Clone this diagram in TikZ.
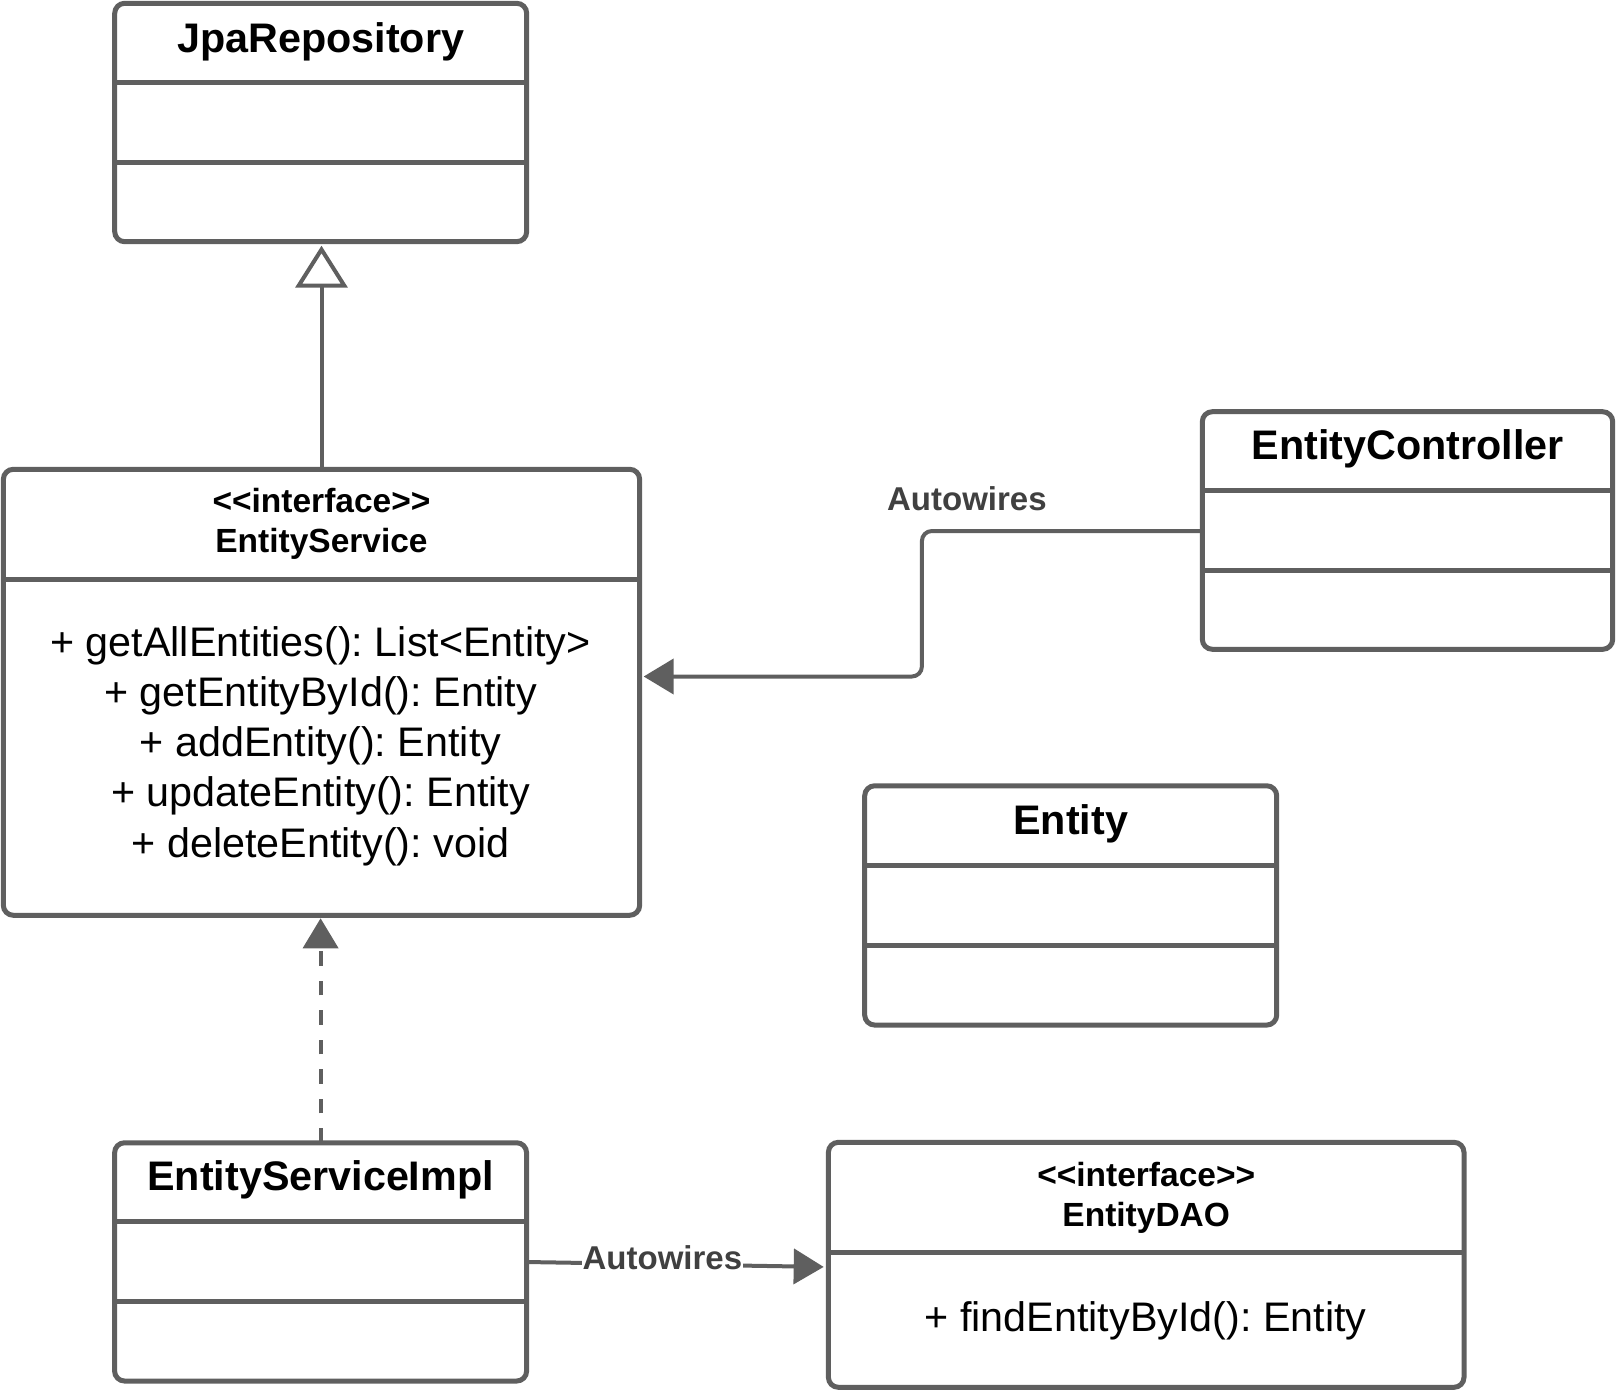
\documentclass[tikz,border=0pt]{standalone}
\usepackage{fontspec}
\setmainfont{Liberation Sans}
\usetikzlibrary{arrows.meta}
\definecolor{linec}{RGB}{95,95,95}
\definecolor{labc}{RGB}{64,64,64}
\begin{document}
\frenchspacing
\begin{tikzpicture}[x=1pt,y=-1pt,
  umlbox/.style={draw=linec, line width=5pt, rounded corners=10pt, inner sep=0pt, outer sep=0pt, fill=white},
  divider/.style={draw=linec, line width=5pt},
  conn/.style={draw=linec, line width=4pt},
  titletext/.style={font=\fontsize{41.3}{48}\selectfont\bfseries, anchor=base, inner sep=0pt},
  stereo/.style={font=\fontsize{33.5}{40}\selectfont\bfseries, anchor=base, inner sep=0pt},
  method/.style={font=\fontsize{41.3}{48}\selectfont, anchor=base, inner sep=0pt},
  lab/.style={font=\fontsize{33}{40}\selectfont\bfseries, text=labc, anchor=base, inner sep=1pt},
  filledtip/.style={-{Triangle[length=30pt,width=35pt]}},
  opentip/.style={-{Triangle[length=42pt,width=52pt,fill=white]}}
]
\useasboundingbox (0,0) rectangle (1618,1393);

% boxes
\node[umlbox, minimum width=412pt, minimum height=238.4pt] (jpa) at (320.7,122.5) {};
\node[umlbox, minimum width=636.3pt, minimum height=446pt] (es) at (321.5,692.3) {};
\node[umlbox, minimum width=410.4pt, minimum height=237.6pt] (ec) at (1407.5,530.5) {};
\node[umlbox, minimum width=412pt, minimum height=239.3pt] (ent) at (1070.7,905.4) {};
\node[umlbox, minimum width=412pt, minimum height=238.3pt] (esi) at (320.6,1261.9) {};
\node[umlbox, minimum width=635.6pt, minimum height=245pt] (dao) at (1146.2,1264.8) {};

% dividers
\foreach \b/\o in {jpa/79, jpa/159, ec/79, ec/159, ent/80, ent/159.3, esi/79, esi/159, es/110, dao/110.4}{
  \draw[divider] ([yshift=-\o pt]\b.north west) -- ([yshift=-\o pt]\b.north east);
}

% texts
\node[titletext] (jpaT) at (320.7,52) {JpaRepository};
\node[titletext] (ecT) at (1407.5,459) {EntityController};
\node[titletext] (entT) at (1070.7,834) {Entity};
\node[titletext] (esiT) at (320.6,1190) {EntityServiceImpl};
\node[stereo] (esS) at (321.5,512) {<{}<interface>{}>};
\node[stereo] (esT) at (321.5,552) {EntityService};
\node[stereo] (daoS) at (1146.2,1186) {<{}<interface>{}>};
\node[stereo] (daoT) at (1146.2,1226) {EntityDAO};
\node[method] (m1) at (320.5,656) {+ getAllEntities(): List<Entity>};
\node[method] (m2) at (320.5,706.3) {+ getEntityById(): Entity};
\node[method] (m3) at (320.5,756.6) {+ addEntity(): Entity};
\node[method] (m4) at (320.5,806.9) {+ updateEntity(): Entity};
\node[method] (m5) at (320.5,857.2) {+ deleteEntity(): void};
\node[method] (d1) at (1145.5,1331) {+ findEntityById(): Entity};

% helper coordinates
\coordinate (ecout) at (0,531);
\coordinate (bend) at (921.9,0);
\coordinate (esin) at (0,676.5);
\coordinate (esiout) at (0,1262);
\coordinate (daoin) at (0,1267);

% connectors
\draw[conn, opentip, shorten >=4pt] (es.north) -- (es.north |- jpa.south);
\draw[conn, dash pattern=on 14.5pt off 15pt, filledtip, shorten >=3pt] (esi.north) -- (esi.north |- es.south);
\draw[conn, rounded corners=10pt, filledtip, shorten >=4pt] (ec.west |- ecout) -| (bend |- esin) -- (es.east |- esin);
\node[lab] (lab1) at (966.9,510) {Autowires};
\draw[conn, filledtip, shorten >=4.7pt] (esi.east |- esiout) -- node[lab, fill=white, pos=0.45, yshift=-5pt] (lab2) {Autowires} (dao.west |- daoin);
\end{tikzpicture}
\end{document}
